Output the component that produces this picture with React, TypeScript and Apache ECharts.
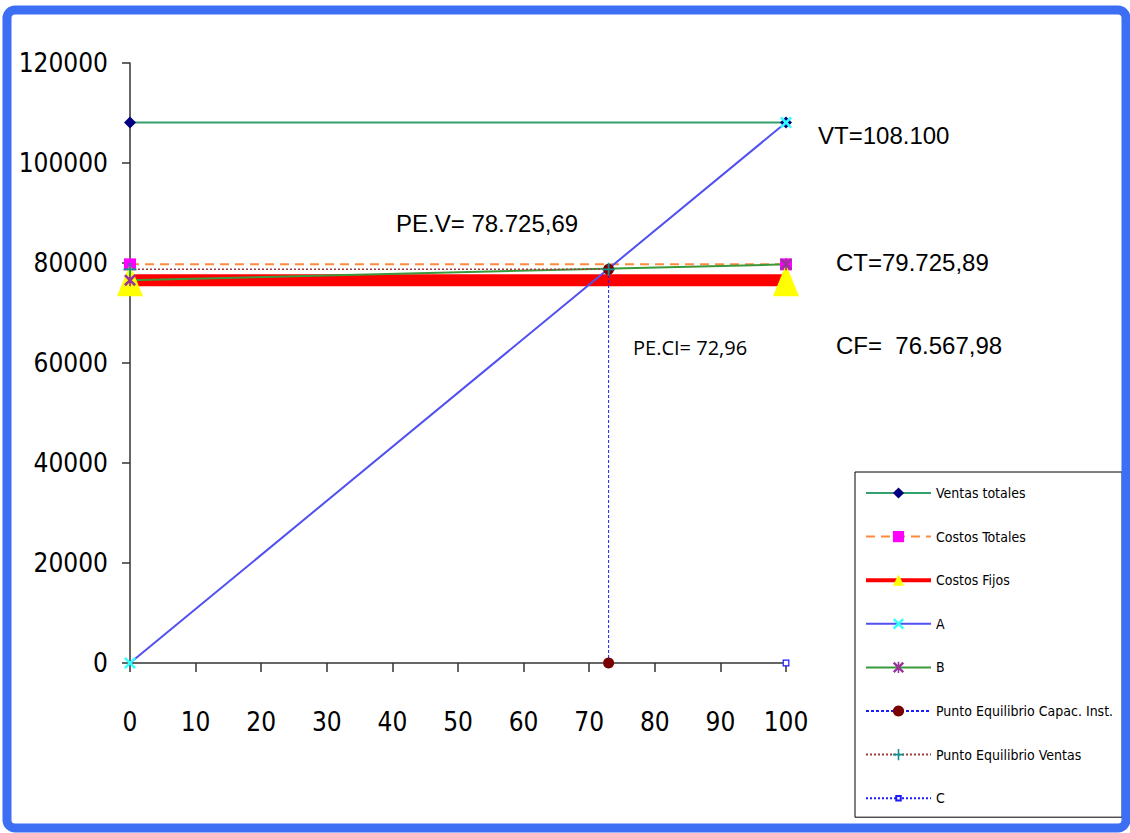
import React, { useEffect, useRef } from "react";
import * as echarts from "echarts";

// ---- Data ----
const xTicks = [0, 10, 20, 30, 40, 50, 60, 70, 80, 90, 100];
const yTicks = [0, 20000, 40000, 60000, 80000, 100000, 120000];

const ventasX = [0, 100];
const ventasY = [108100, 108100];
const costosTotalesX = [0, 100];
const costosTotalesY = [79725.89, 79725.89];
const costosFijosX = [0, 100];
const costosFijosY = [76567.98, 76567.98];
const aX = [0, 100];
const aY = [0, 108100];
const bX = [0, 100];
const bY = [76567.98, 79725.89];
const peCapX = [72.96, 72.96];
const peCapY = [0, 78725.69];
const peVentasX = [0, 72.96];
const peVentasY = [78725.69, 78725.69];
const cX = [100];
const cY = [0];

const seriesNames = [
  "Ventas totales",
  "Costos Totales",
  "Costos Fijos",
  "A",
  "B",
  "Punto Equilibrio Capac. Inst.",
  "Punto Equilibrio Ventas",
  "C",
];

const ANN_FONT = '24px "Liberation Sans", Arial, sans-serif';
const annotations = [
  { text: "VT=108.100", x: 818, y: 135, font: ANN_FONT },
  { text: "PE.V= 78.725,69", x: 396, y: 223, font: ANN_FONT },
  { text: "CT=79.725,89", x: 836, y: 262, font: ANN_FONT },
  { text: "PE.CI= 72,96", x: 633, y: 347, font: '20px "Open Sans", "Noto Sans", sans-serif' },
  { text: "CF=  76.567,98", x: 836, y: 345, font: ANN_FONT },
];

const zip = (xs: number[], ys: number[]) => xs.map((x, i) => [x, ys[i]]);

const NARROW = '"Liberation Sans Narrow", "Arial Narrow", "DejaVu Sans Condensed", sans-serif';

const X_PATH =
  "path://M0,1.5L1.5,0L5,3.5L8.5,0L10,1.5L6.5,5L10,8.5L8.5,10L5,6.5L1.5,10L0,8.5L3.5,5Z";
const STAR_PATH =
  "path://M0,1.5L1.5,0L5,3.5L8.5,0L10,1.5L6.5,5L10,8.5L8.5,10L5,6.5L1.5,10L0,8.5L3.5,5ZM4.3,0L5.7,0L5.7,10L4.3,10Z";
const PLUS_PATH =
  "path://M4.3,0L5.7,0L5.7,4.3L10,4.3L10,5.7L5.7,5.7L5.7,10L4.3,10L4.3,5.7L0,5.7L0,4.3L4.3,4.3Z";

export default function App() {
  const ref = useRef<HTMLDivElement>(null);

  useEffect(() => {
    if (!ref.current) return;
    const chart = echarts.init(ref.current, undefined, { renderer: "svg" });

    const option: any = {
      animation: false,
      backgroundColor: "#ffffff",
      grid: {
        left: 130,
        top: 63,
        width: 656,
        height: 600,
        containLabel: false,
        outerBoundsMode: "none",
      },
      xAxis: {
        type: "value",
        min: xTicks[0],
        max: xTicks[xTicks.length - 1],
        interval: 10,
        splitLine: { show: false },
        axisLine: { onZero: false, lineStyle: { color: "#333", width: 1.5 } },
        axisTick: { show: true, length: 9, lineStyle: { color: "#333", width: 1.5 } },
        axisLabel: {
          color: "#000",
          fontFamily: NARROW,
          fontSize: 26,
          margin: 46,
          formatter: (v: number) => String(v),
        },
      },
      yAxis: {
        type: "value",
        min: yTicks[0],
        max: yTicks[yTicks.length - 1],
        interval: 20000,
        splitLine: { show: false },
        axisLine: { show: true, onZero: false, lineStyle: { color: "#333", width: 1.5 } },
        axisTick: { show: true, length: 8, lineStyle: { color: "#333", width: 1.5 } },
        axisLabel: {
          color: "#000",
          fontFamily: NARROW,
          fontSize: 26,
          margin: 22,
          formatter: (v: number) => String(v),
        },
      },
      legend: {
        orient: "vertical",
        left: 855,
        top: 472,
        itemWidth: 65,
        itemHeight: 14,
        itemGap: 29.6,
        padding: [14, 9, 12, 9],
        borderColor: "#000",
        borderWidth: 1,
        backgroundColor: "#fff",
        textStyle: { color: "#000", fontFamily: NARROW, fontSize: 14, lineHeight: 14 },
        data: seriesNames.map((n) =>
          n === "Costos Fijos" ? { name: n, lineStyle: { width: 4 } } : { name: n }
        ),
      },
      series: [
        {
          name: seriesNames[0],
          type: "line",
          data: zip(ventasX, ventasY),
          lineStyle: { color: "#33a06f", width: 2 },
          symbol: "diamond",
          symbolSize: 12,
          itemStyle: { color: "#000080" },
        },
        {
          name: seriesNames[1],
          type: "line",
          data: zip(costosTotalesX, costosTotalesY),
          lineStyle: { color: "#ff8a3d", width: 2, type: [9, 6] },
          symbol: "rect",
          symbolSize: 12,
          itemStyle: { color: "#ff00ff" },
        },
        {
          name: seriesNames[2],
          type: "line",
          data: zip(costosFijosX, costosFijosY),
          lineStyle: { color: "#ff0000", width: 12 },
          symbol: "triangle",
          symbolSize: [26, 32],
          itemStyle: { color: "#ffff00" },
        },
        {
          name: seriesNames[3],
          type: "line",
          data: zip(aX, aY),
          lineStyle: { color: "#5050f0", width: 2 },
          symbol: X_PATH,
          symbolSize: 12,
          itemStyle: { color: "#33ffff" },
        },
        {
          name: seriesNames[4],
          type: "line",
          data: zip(bX, bY),
          lineStyle: { color: "#3a9a3a", width: 2 },
          symbol: STAR_PATH,
          symbolSize: 12,
          itemStyle: { color: "#993399" },
        },
        {
          name: seriesNames[5],
          type: "line",
          data: zip(peCapX, peCapY),
          lineStyle: { color: "#1a1aff", width: 1, type: [3, 2] },
          symbol: "circle",
          symbolSize: 11,
          itemStyle: { color: "#7a0000" },
        },
        {
          name: seriesNames[6],
          type: "line",
          data: zip(peVentasX, peVentasY),
          lineStyle: { color: "#a03c3c", width: 1.5, type: [2, 2] },
          symbol: PLUS_PATH,
          symbolSize: 13,
          itemStyle: { color: "#109090" },
        },
        {
          name: seriesNames[7],
          type: "line",
          data: zip(cX, cY),
          lineStyle: { color: "#1a1aff", width: 1, type: [2, 2] },
          symbol: "path://M0,0M10,10M3,3L7,3L7,7L3,7Z",
          symbolSize: 14,
          itemStyle: { color: "#ffffff", borderColor: "#1a1aff", borderWidth: 1.2 },
        },
      ],
      graphic: [
        {
          type: "rect",
          shape: { x: 7, y: 10, width: 1119, height: 818, r: 8 },
          style: { fill: "none", stroke: "#3d6ff5", lineWidth: 9 },
          silent: true,
          z: 100,
        },
        ...annotations.map((a) => ({
          type: "text",
          x: a.x,
          y: a.y,
          style: {
            text: a.text,
            font: a.font,
            fill: "#000",
            verticalAlign: "middle",
            align: "left",
          },
          silent: true,
        })),
      ],
    };

    chart.setOption(option);
    return () => chart.dispose();
  }, []);

  return (
    <div
      ref={ref}
      style={{ position: "fixed", left: 0, top: 0, width: 1130, height: 833 }}
    />
  );
}
